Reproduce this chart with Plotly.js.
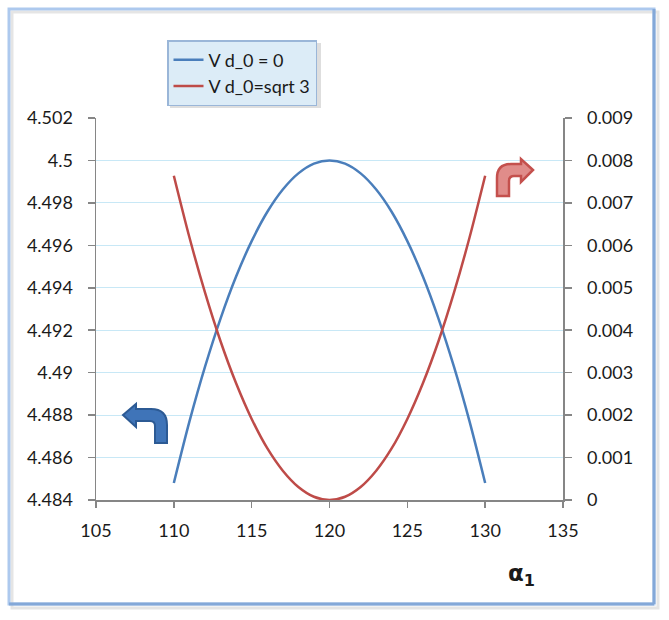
<!DOCTYPE html>
<html>
<head>
<meta charset="utf-8">
<script src="https://cdn.plot.ly/plotly-3.0.1.min.js"></script>
<style>html,body{margin:0;padding:0;background:#fff;}#chart{width:669px;height:620px;}</style>
</head>
<body>
<div id="chart"></div>
<script>
// ---- data ----
const alpha = [110,111,112,113,114,115,116,117,118,119,120,121,122,123,124,125,126,127,128,129,130];
const seriesBlue = [4.48480,4.48769,4.49027,4.49255,4.49453,4.49620,4.49757,4.49863,4.49939,4.49985,4.50000,4.49985,4.49939,4.49863,4.49757,4.49620,4.49453,4.49255,4.49027,4.48769,4.48480];
const seriesRed = [0.007640,0.006190,0.004890,0.003740,0.002750,0.001910,0.001220,0.000690,0.000306,0.000076,0.0,0.000076,0.000306,0.000690,0.001220,0.001910,0.002750,0.003740,0.004890,0.006190,0.007640];
const nameBlue = "V d_0 = 0";
const nameRed = "V d_0=sqrt 3";
const leftTickVals = [4.484,4.486,4.488,4.49,4.492,4.494,4.496,4.498,4.5,4.502];
const leftTickText = ["4.484","4.486","4.488","4.49","4.492","4.494","4.496","4.498","4.5","4.502"];
const rightTickVals = [0,0.001,0.002,0.003,0.004,0.005,0.006,0.007,0.008,0.009];
const rightTickText = ["0","0.001","0.002","0.003","0.004","0.005","0.006","0.007","0.008","0.009"];
const xTickVals = [105,110,115,120,125,130,135];

// ---- geometry helpers (pixel -> paper) ----
const L=96, R=563, T=118, B=500;
const px = x => (x-L)/(R-L);
const py = y => (B-y)/(B-T);
function path(cmds){
  return cmds.map(c=>{
    if(c[0]==='Z') return 'Z';
    let s=c[0];
    for(let i=1;i<c.length;i+=2){ s += (i>1?' ':'') + px(c[i]).toFixed(5)+','+py(c[i+1]).toFixed(5); }
    return s;
  }).join(' ');
}
const font = "Lato, 'Open Sans', sans-serif";
const txt = '#1a1a1a';
const fs = 18;

const traces = [
  {x: alpha, y: seriesBlue, name: nameBlue, type:'scatter', mode:'lines', line:{color:'#4a7ebb', width:2.5, shape:'spline', smoothing:0.8}, yaxis:'y', legendgroup:'a'},
  {x: alpha, y: seriesRed, name: nameRed, type:'scatter', mode:'lines', line:{color:'#be4b48', width:2.5, shape:'spline', smoothing:0.8}, yaxis:'y2', legendgroup:'b'}
];

const blueArrow = path([['M',123,415],['L',136,404],['L',136,409],['L',151,409],['Q',167,409,167,425],['L',167,443],['L',155,443],['L',155,426],['Q',155,421,150,421],['L',136,421],['L',136,427],['Z']]);
const redArrow = path([['M',533,170],['L',521,159],['L',521,164],['L',511,164],['Q',497,164,497,178],['L',497,196],['L',509,196],['L',509,181],['Q',509,176,514,176],['L',521,176],['L',521,182],['Z']]);

const shapes = [
  // frame shadow
  {type:'rect', xref:'paper', yref:'paper', x0:px(12), x1:px(658), y0:py(608), y1:py(12), line:{color:'rgba(0,0,0,0.10)', width:3}, layer:'below'},
  // frame
  {type:'rect', xref:'paper', yref:'paper', x0:px(9), x1:px(654), y0:py(604), y1:py(9), line:{color:'#adc9ee', width:3}},
  {type:'line', xref:'paper', yref:'paper', x0:px(654), x1:px(654), y0:py(604), y1:py(9), line:{color:'#84a8d8', width:3}},
  {type:'line', xref:'paper', yref:'paper', x0:px(9), x1:px(654), y0:py(604), y1:py(604), line:{color:'#84a8d8', width:3}},
  // legend shadow
  {type:'rect', xref:'paper', yref:'paper', x0:px(170), x1:px(321), y0:py(108), y1:py(43), line:{width:0}, fillcolor:'rgba(0,0,0,0.13)', layer:'above'},
  // arrows
  {type:'path', xref:'paper', yref:'paper', path: blueArrow, fillcolor:'#3f74b8', line:{color:'#2c5a94', width:2}, layer:'above'},
  {type:'path', xref:'paper', yref:'paper', path: redArrow, fillcolor:'#e08c8a', line:{color:'#c4504d', width:2.5}, layer:'above'}
];

const layout = {
  width:669, height:620,
  margin:{l:L, r:669-R, t:T, b:620-B},
  paper_bgcolor:'#ffffff', plot_bgcolor:'#ffffff',
  font:{family:font, size:fs, color:txt},
  showlegend:true,
  legend:{x:px(167), y:py(40), xanchor:'left', yanchor:'top', bgcolor:'#dcecf7', bordercolor:'#9ab6d8', borderwidth:1.5,
          font:{family:font, size:fs, color:txt}, itemwidth:30, tracegroupgap:5, traceorder:'normal'},
  xaxis:{range:[105,135], tickvals:xTickVals, ticks:'outside', ticklen:6, tickcolor:'#868686', tickwidth:1.5,
         showline:true, linecolor:'#868686', linewidth:1.5, showgrid:false, zeroline:false,
         ticklabelstandoff:8, tickfont:{family:font, size:fs, color:txt}},
  yaxis:{range:[4.484,4.502], tickvals:leftTickVals, ticktext:leftTickText, ticks:'outside', ticklen:7, tickcolor:'#868686', tickwidth:1.5,
         showline:true, linecolor:'#868686', linewidth:1.5, showgrid:true, gridcolor:'#c8e8f6', gridwidth:1, zeroline:false,
         ticklabelstandoff:11, tickfont:{family:font, size:fs, color:txt}},
  yaxis2:{range:[0,0.009], tickvals:rightTickVals, ticktext:rightTickText, overlaying:'y', side:'right', ticks:'outside', ticklen:7, tickcolor:'#868686', tickwidth:1.5,
          showline:true, linecolor:'#868686', linewidth:1.5, showgrid:false, zeroline:false,
          ticklabelstandoff:12, tickfont:{family:font, size:fs, color:txt}},
  shapes: shapes,
  annotations:[
    {xref:'paper', yref:'paper', x:px(506), y:py(558), xanchor:'left', yanchor:'top', text:'<b>α<sub>1</sub></b>', showarrow:false, font:{family:"'DejaVu Sans', sans-serif", size:23, color:txt}}
  ]
};

Plotly.newPlot('chart', traces, layout, {displayModeBar:false, staticPlot:true});
</script>
</body>
</html>
